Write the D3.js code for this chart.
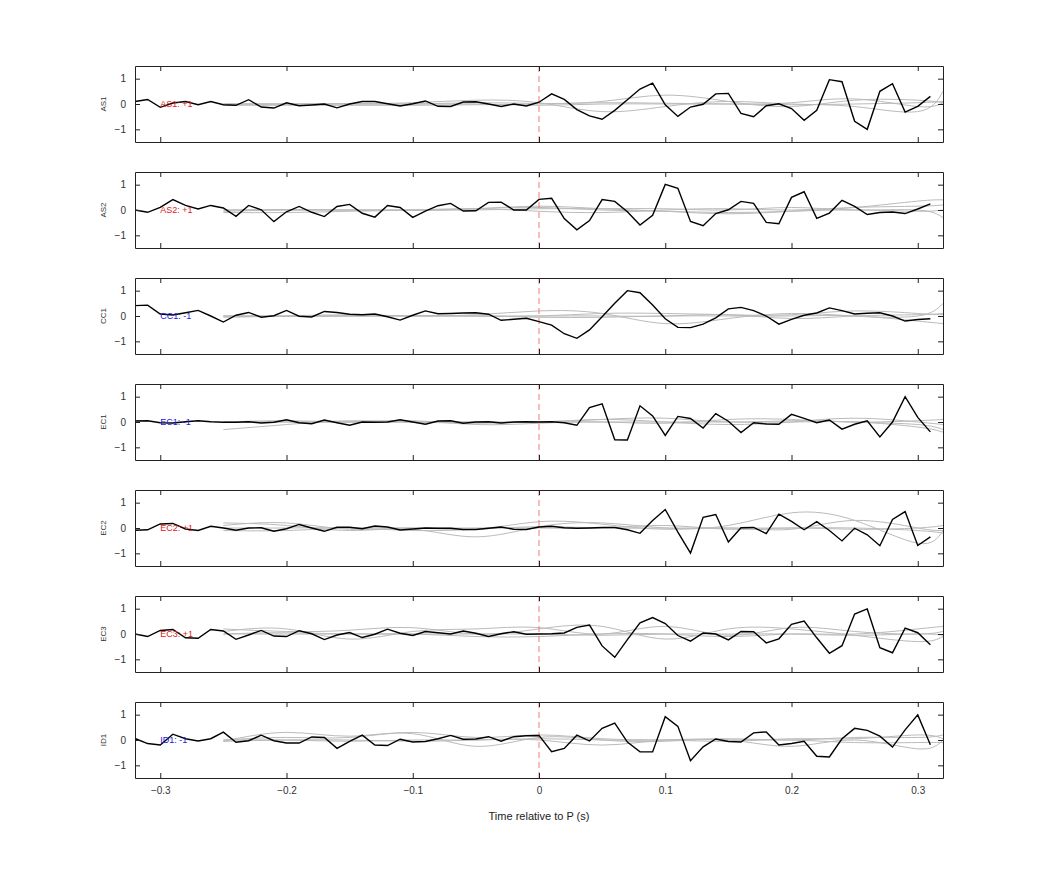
<!DOCTYPE html>
<html>
<head>
<meta charset="utf-8">
<script src="https://cdn.jsdelivr.net/npm/d3@7"></script>
<style>
body { margin: 0; background: #fff; }
text { font-family: "Liberation Sans", Arial, sans-serif; }
</style>
</head>
<body>
<svg id="chart" width="1042" height="875"></svg>
<script>
// channels, label colour/sign
const channels = ["AS1", "AS2", "CC1", "EC1", "EC2", "EC3", "ID1"];
const signs = ["+1", "+1", "-1", "-1", "+1", "+1", "-1"];
const signColors = ["#e02020", "#e02020", "#2020e0", "#2020e0", "#e02020", "#e02020", "#2020e0"];

// black trace samples, t = -0.32 .. 0.31 every 0.01
const times = d3.range(64).map(i => Math.round((-0.32 + i * 0.01) * 100) / 100);
const AS1 = [0.1,0.18,-0.13,0.04,0.1,-0.03,0.1,-0.03,-0.05,0.17,-0.12,-0.16,0.05,-0.07,-0.04,0,-0.15,0,0.1,0.1,0.01,-0.08,0.01,0.12,-0.09,-0.1,0.08,0.09,0,-0.1,0,-0.08,0.07,
  0.4,0.18,-0.22,-0.47,-0.6,-0.25,0.17,0.59,0.82,-0.03,-0.49,-0.12,-0.01,0.4,0.42,-0.37,-0.5,-0.07,0.01,-0.18,-0.64,-0.25,0.96,0.88,-0.68,-1.0,0.5,0.8,-0.32,-0.09,0.3];
const AS2 = [0,-0.09,0.1,0.41,0.18,0.04,0.18,0.08,-0.25,0.18,0.01,-0.46,-0.07,0.14,-0.09,-0.26,0.14,0.22,-0.13,-0.28,0.18,0.1,-0.29,-0.04,0.17,0.26,-0.04,-0.03,0.3,0.31,0,0,0.42,
  0.46,-0.34,-0.78,-0.42,0.41,0.34,-0.07,-0.59,-0.21,1.01,0.86,-0.45,-0.62,-0.14,0.01,0.34,0.26,-0.49,-0.54,0.5,0.72,-0.33,-0.12,0.38,0.14,-0.18,-0.1,-0.08,-0.14,0.04,0.24];
const CC1 = [0.41,0.43,0.08,0.04,0.13,0.22,0,-0.24,0.03,0.14,-0.05,0.01,0.22,-0.01,-0.04,0.18,0.14,0.07,0.05,0.08,-0.03,-0.16,0.03,0.2,0.09,0.1,0.12,0.13,0.07,-0.17,-0.13,-0.09,-0.22,
  -0.36,-0.7,-0.88,-0.55,-0.03,0.5,1.0,0.92,0.43,-0.11,-0.45,-0.46,-0.32,-0.07,0.28,0.34,0.21,0,-0.32,-0.13,0.03,0.12,0.32,0.21,0.08,0.11,0.13,0,-0.2,-0.14,-0.11];
const EC1 = [0.04,0.05,-0.03,-0.04,0.01,0.05,0.01,-0.01,-0.01,0.01,-0.04,-0.01,0.09,-0.03,-0.07,0.08,-0.03,-0.13,0,-0.01,0,0.09,0,-0.09,0.04,0.05,-0.05,0,0.01,-0.04,0,0.01,0,
  0.01,-0.03,-0.13,0.57,0.72,-0.7,-0.71,0.64,0.24,-0.53,0.22,0.14,-0.24,0.33,0.03,-0.42,-0.03,-0.08,-0.09,0.3,0.14,-0.03,0.08,-0.28,-0.09,0.05,-0.59,0,1.0,0.18,-0.39];
const EC2 = [-0.09,-0.07,0.16,0.18,-0.04,-0.1,0.07,0,-0.09,0,0.01,-0.13,-0.03,0.14,0,-0.13,0.03,0.03,-0.03,0.08,0.04,-0.08,-0.04,0,-0.01,-0.01,-0.06,-0.06,-0.01,0.04,-0.05,-0.06,0.04,
  0.07,0.01,-0.01,0,0.02,0.02,-0.07,-0.21,0.3,0.73,-0.16,-0.99,0.42,0.53,-0.55,0.01,0.02,-0.22,0.55,0.26,-0.07,0.25,-0.1,-0.51,-0.01,-0.27,-0.7,0.34,0.65,-0.69,-0.35];
const EC3 = [0,-0.1,0.14,0.18,-0.15,-0.17,0.18,0.12,-0.21,-0.04,0.14,-0.08,-0.1,0.13,0.01,-0.22,-0.04,0.06,-0.14,-0.01,0.19,0.03,-0.06,0.1,0.05,0,0.12,0.03,-0.1,0.01,0.09,-0.01,0,
  0.01,0.04,0.26,0.35,-0.47,-0.92,-0.22,0.44,0.65,0.41,-0.06,-0.28,0.04,0,-0.23,0.1,0.09,-0.35,-0.19,0.38,0.51,-0.15,-0.76,-0.46,0.79,0.99,-0.54,-0.74,0.23,0.05,-0.42];
const ID1 = [0.06,-0.14,-0.2,0.23,0.05,-0.04,0.05,0.31,-0.09,-0.03,0.19,-0.03,-0.12,-0.12,0.12,0.1,-0.33,-0.05,0.19,-0.2,-0.22,0.03,-0.08,-0.06,0.05,0.18,0.03,0.04,0.13,-0.05,0.13,0.17,0.18,
  -0.46,-0.33,0.19,-0.04,0.46,0.67,-0.08,-0.47,-0.47,0.92,0.54,-0.82,-0.27,0.04,-0.06,-0.08,0.28,0.32,-0.2,-0.14,-0.05,-0.64,-0.67,0.05,0.46,0.38,0.15,-0.28,0.4,0.99,-0.19];
const traces = [AS1, AS2, CC1, EC1, EC2, EC3, ID1];

// grey template curves, knots at these times
const knots = [-0.25,-0.2,-0.15,-0.1,-0.05,0,0.05,0.1,0.15,0.2,0.25,0.3,0.32];
const greyAS1 = [
  [0,0,0,0.05,0.15,0.05,-0.3,-0.1,0.1,0,-0.1,-0.3,0.5],
  [0,0,0,0,0.05,0.02,0.1,0.35,0.1,-0.1,0.15,0.15,0.05],
  [0,0,0.02,0,0,-0.05,0,0,0,0.05,0.2,-0.1,0.05],
  [-0.05,-0.05,-0.05,-0.05,-0.03,0,0.05,0.03,0,-0.03,0,0.05,0.1]];
const greyAS2 = [
  [-0.05,0,0,0,0.05,0.15,0.05,-0.05,-0.15,-0.05,0.1,0.35,0.4],
  [0,0,0,0,0,0.05,0.05,0.05,0,0.1,0,0,-0.3],
  [-0.1,-0.1,-0.05,0,0.05,-0.05,-0.1,0,0.05,0,0.1,0.15,0.2],
  [0,0.02,0,-0.02,0.05,0.1,0,-0.05,-0.1,-0.05,0,-0.05,0]];
const greyCC1 = [
  [0,0,0,0,0.05,0.2,0.1,-0.3,-0.1,0.1,0,0,0.5],
  [0,0,0,0,0,0,0.1,0.1,0.05,0.05,0.2,0.1,0.05],
  [-0.05,0,0.05,0,0,-0.05,-0.05,0,0,0,0,-0.2,-0.3],
  [0,-0.02,0,0.02,0,0,0,0,0.05,-0.1,0,0.05,0.1]];
const greyEC1 = [
  [-0.3,-0.1,0.05,0,0,0,0.1,0.15,0,0.05,0,-0.1,-0.3],
  [0,0,0,0.05,-0.1,-0.05,0,-0.05,0.1,0.1,0,0.05,0.1],
  [0,0.05,0,0,0,0,0.1,0,-0.1,0,0.15,0,-0.1],
  [0,0,0,0,-0.05,0,0,0,0,0,0,-0.2,-0.4]];
const greyEC2 = [
  [0.2,0.1,-0.1,-0.05,-0.35,0.05,0.2,0,0.1,0.6,0.3,-0.6,-0.1],
  [0.1,0.2,-0.05,0,-0.05,0.25,0.15,-0.05,0,-0.05,0.3,0,-0.1],
  [-0.1,-0.1,0,0,0,0,0,0.1,-0.05,0,-0.05,0,0.1],
  [0,0,0,-0.1,-0.05,0.05,0,0,0,0,0,-0.1,-0.2]];
const greyEC3 = [
  [0.2,0.1,0.15,0.25,0,0.2,0.3,-0.2,0.2,0.2,-0.05,-0.3,-0.1],
  [0.1,0.2,-0.2,0.1,0.2,0.25,0,0.3,-0.05,0.25,0.1,0,0.1],
  [0,0,0,0,-0.1,-0.1,0,0,-0.1,0,0,0.2,0.3],
  [0,0.05,0,0,0,0,-0.05,0,0,0,-0.05,0,-0.05]];
const greyID1 = [
  [-0.05,0.3,0.15,0.25,-0.25,0.1,0,-0.05,0,-0.25,0,-0.35,0],
  [0,0.1,0.1,0.3,0.1,0.2,0.05,0,-0.05,0.05,0.05,0.2,0.05],
  [-0.05,0,0,-0.05,0,0,-0.2,0,0,0,-0.1,-0.1,-0.1],
  [0,0,-0.05,0,0,0.05,0,0,0.05,0,0.1,0.1,0.2]];
const greys = [greyAS1, greyAS2, greyCC1, greyEC1, greyEC2, greyEC3, greyID1];

const xTicks = [-0.3, -0.2, -0.1, 0, 0.1, 0.2, 0.3];
const yTicks = [-1, 0, 1];

const svg = d3.select("#chart");
const left = 135, right = 943, top0 = 66, ph = 76, step = 106;

const x = d3.scaleLinear().domain([-0.32, 0.32]).range([left, right]);
const fmt = d => d === 0 ? "0" : d3.format("")(d);

channels.forEach((ch, k) => {
	const top = top0 + k * step;
	const y = d3.scaleLinear().domain([-1.5, 1.5]).range([top + ph, top]);
	const g = svg.append("g");

	// grey curves
	const gline = d3.line().x((d, i) => x(knots[i])).y(d => y(d)).curve(d3.curveNatural);
	greys[k].forEach(s => {
		g.append("path").attr("d", gline(s)).attr("fill", "none")
			.attr("stroke", "#bbbbbb").attr("stroke-width", 1);
	});

	// zero marker
	g.append("line").attr("x1", x(0)).attr("x2", x(0)).attr("y1", top).attr("y2", top + ph)
		.attr("stroke", "#f07878").attr("stroke-dasharray", "6,4").attr("stroke-width", 1);

	// black trace
	const line = d3.line().x((d, i) => x(times[i])).y(d => y(d));
	g.append("path").attr("d", line(traces[k])).attr("fill", "none")
		.attr("stroke", "#000").attr("stroke-width", 1.4);

	// axes
	const axB = g.append("g").attr("transform", `translate(0,${top + ph})`)
		.call(d3.axisBottom(x).tickValues(xTicks).tickSizeInner(-5).tickSizeOuter(0)
			.tickFormat(k === channels.length - 1 ? fmt : ""));
	const axT = g.append("g").attr("transform", `translate(0,${top})`)
		.call(d3.axisTop(x).tickValues(xTicks).tickSizeInner(-5).tickSizeOuter(0).tickFormat(""));
	const axL = g.append("g").attr("transform", `translate(${left},0)`)
		.call(d3.axisLeft(y).tickValues(yTicks).tickSizeInner(-5).tickSizeOuter(0).tickFormat(fmt));
	const axR = g.append("g").attr("transform", `translate(${right},0)`)
		.call(d3.axisRight(y).tickValues(yTicks).tickSizeInner(-5).tickSizeOuter(0).tickFormat(""));
	[axB, axT, axL, axR].forEach(a => {
		a.selectAll("path").attr("stroke", "#222");
		a.selectAll("line").attr("stroke", "#222");
		a.selectAll("text").attr("fill", "#333").attr("font-size", 10);
	});
	axL.selectAll("text").attr("x", -9);
	axB.selectAll("text").attr("y", 9);

	// channel name
	g.append("text").attr("transform", `translate(106,${y(0)}) rotate(-90)`)
		.attr("text-anchor", "middle").attr("font-size", 8).attr("fill", "#333").text(ch);

	// sign label
	g.append("text").attr("x", x(-0.3)).attr("y", y(0) + 3).attr("font-size", 9)
		.attr("fill", signColors[k]).text(ch + ": " + signs[k]);
});

svg.append("text").attr("x", x(0)).attr("y", 820).attr("text-anchor", "middle")
	.attr("font-size", 11).attr("fill", "#222").text("Time relative to P (s)");
</script>
</body>
</html>
